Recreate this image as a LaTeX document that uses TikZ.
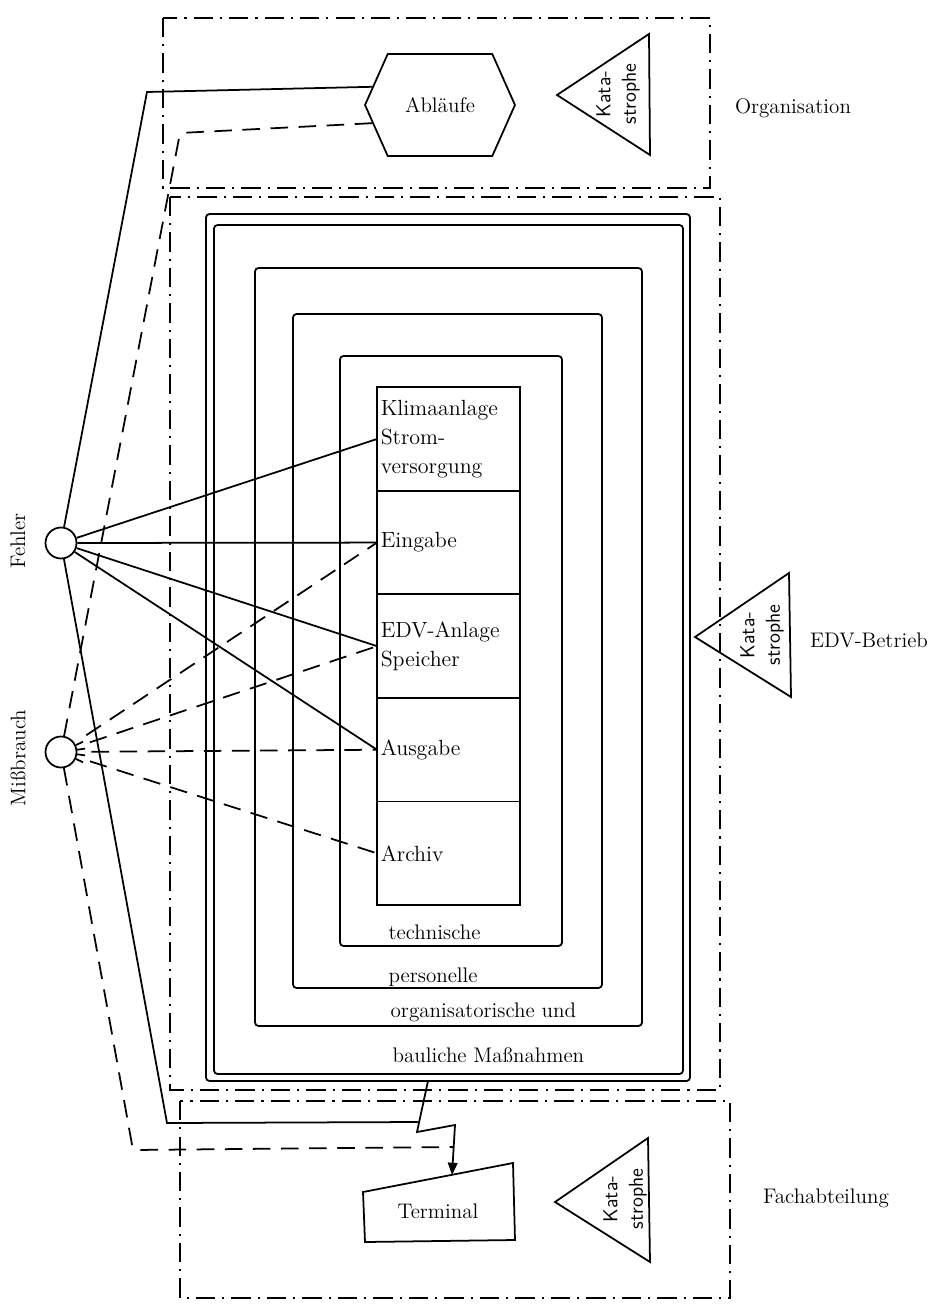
\documentclass[tikz,border=0pt]{standalone}
\usetikzlibrary{arrows.meta, positioning, shapes.symbols}
\tikzset{
  every picture/.style={line width=1pt},
  lbl/.style={font=\fontsize{12}{15}\selectfont, inner sep=1pt},
  vlbl/.style={lbl, rotate=90},
  kata/.style={font=\sffamily\fontsize{11.5}{14.5}\selectfont, rotate=90, align=center, inner sep=0pt},
  zelle/.style={draw, minimum width=2.86cm, minimum height=2.072cm, text width=2.71cm, align=left, inner sep=2pt, outer sep=0pt, font=\fontsize{12.5}{16.5}\selectfont},
  ablauf/.style={draw, signal, signal to=west and east, signal pointer angle=132, minimum width=3cm, minimum height=2.04cm, font=\fontsize{12}{15}\selectfont},
  quelle/.style={draw, circle, minimum size=0.62cm, inner sep=0pt},
  bereich/.style={dash pattern=on 11pt off 4pt on 1.2pt off 4pt},
  miss/.style={dash pattern=on 10pt off 6pt},
  massnahme/.style={rounded corners=2pt},
}

\begin{document}
\begin{tikzpicture}[x=0.02cm, y=-0.02cm]
  \useasboundingbox (0,0) rectangle (930,1308);

  % Bereiche
  \draw[bereich] (163,18) rectangle (710,188);
  \draw[bereich] (170,197) rectangle (720,1090);
  \draw[bereich] (180,1101) rectangle (730,1298);
  \node[lbl] (org) at (793,108) {Organisation};
  \node[lbl] (betrieb) at (869,640) {EDV-Betrieb};
  \node[lbl] (fach) at (826,1198) {Fachabteilung};

  % Massnahmen
  \draw[massnahme] (206,214) rectangle (690,1081);
  \draw[massnahme] (214,225) rectangle (683,1074);
  \draw[massnahme] (255,268) rectangle (642,1026);
  \draw[massnahme] (293,314) rectangle (602,988);
  \draw[massnahme] (340,356) rectangle (562,946);
  \node[lbl, anchor=west] (technisch) at (386,932) {technische};
  \node[lbl, anchor=west] (personell) at (386,977) {personelle};
  \node[lbl, anchor=west] (organisat) at (388,1012) {organisatorische und};
  \node[lbl, anchor=west] (baulich) at (390,1055) {bauliche Maßnahmen};

  % Komponenten
  \node[zelle] (klima) at (448.5,439) {Klimaanlage\\Strom-\\versorgung};
  \node[zelle, below=0pt of klima] (eingabe) {Eingabe};
  \node[zelle, below=0pt of eingabe] (edv) {EDV-Anlage\\Speicher};
  \node[zelle, below=0pt of edv] (ausgabe) {Ausgabe};
  \node[zelle, below=0pt of ausgabe] (archiv) {Archiv};

  \node[ablauf] (ablauf) at (440,105) {Abläufe};

  \draw (557,95) -- (649,34) -- (650,155) -- cycle;
  \node[kata] (kataorg) at (618,94) {Kata-\\strophe};
  \draw (695,637) -- (789,573) -- (791,697) -- cycle;
  \node[kata] (katabetrieb) at (762,635) {Kata-\\strophe};
  \draw (555,1202) -- (648,1138) -- (650,1262) -- cycle;
  \node[kata] (katafach) at (625,1199) {Kata-\\strophe};

  \draw (363,1192) -- (513,1163) -- (515,1240) -- (365,1242) -- cycle;
  \node[lbl] (terminal) at (438,1211) {Terminal};

  % Gefahren
  \node[quelle] (fehler) at (61,543) {};
  \node[quelle] (missbrauch) at (61,752) {};
  \foreach \w in {25,8,-8,-25}
    \draw (missbrauch.\w) -- ++(\w:4.5pt);
  \node[vlbl] (fehlerlbl) at (18,541) {Fehler};
  \node[vlbl] (missbrauchlbl) at (18,758) {Mißbrauch};

  \coordinate (f1) at (147,92);
  \coordinate (f2) at (167,1123);
  \coordinate (m1) at (180,133);
  \coordinate (m2) at (133,1150);
  \coordinate (b0) at (428,1081);
  \coordinate (b1) at (417,1132);
  \coordinate (b2) at (455,1125);
  \coordinate (fj) at (419,1122);
  \coordinate (mj) at (454,1147);
  \coordinate (termtop) at (452,1175);

  \draw (fehler) -- (f1) -- (ablauf.165);
  \draw (fehler) -- (klima.west);
  \draw (fehler) -- (eingabe.west);
  \draw (fehler) -- (edv.west);
  \draw (fehler) -- (ausgabe.west);
  \draw (fehler) -- (f2) -- (fj);

  \draw[miss, rounded corners=3pt] (missbrauch) -- (m1) -- (ablauf.195);
  \draw[miss, shorten <=8pt] (missbrauch) -- (eingabe.west);
  \draw[miss, shorten <=8pt] (missbrauch) -- (edv.west);
  \draw[miss, shorten <=8pt] (missbrauch) -- (ausgabe.west);
  \draw[miss, shorten <=8pt] (missbrauch) -- (archiv.west);
  \draw[miss, rounded corners=3pt] (missbrauch) -- (m2) -- (mj);

  \draw[-{Triangle[length=7pt, width=5.5pt]}] (b0) -- (b1) -- (b2) -- (termtop);
\end{tikzpicture}
\end{document}
